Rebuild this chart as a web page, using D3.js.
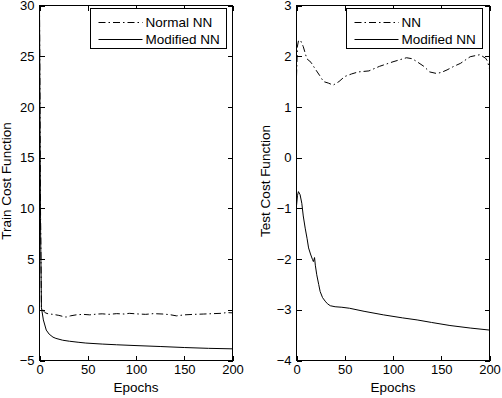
<!DOCTYPE html>
<html>
<head>
<meta charset="utf-8">
<script src="https://cdn.jsdelivr.net/npm/d3@7/dist/d3.min.js"></script>
<style>
  body { margin: 0; background: #fff; }
  svg { display: block; }
  text { font-family: "Liberation Sans", Arial, Helvetica, sans-serif; fill: #000; }
</style>
</head>
<body>
<svg id="chart" width="502" height="398"></svg>
<script>
// ---------- data ----------
const xTicks = [0, 50, 100, 150, 200];
const trainYTicks = [-5, 0, 5, 10, 15, 20, 25, 30];
const testYTicks = [-4, -3, -2, -1, 0, 1, 2, 3];

const trainNormalX = [0, 1, 2, 4, 6, 9, 14, 20, 24, 27.5, 32, 38, 45, 52, 60, 65, 72, 80, 88, 93, 100, 110, 118, 128, 135, 142, 150, 160, 170, 180, 188, 194, 200];
const trainNormalY = [30, 10.5, 0.3, -0.1, -0.3, -0.4, -0.45, -0.55, -0.65, -0.72, -0.6, -0.5, -0.45, -0.5, -0.42, -0.4, -0.45, -0.38, -0.42, -0.35, -0.4, -0.45, -0.38, -0.42, -0.48, -0.6, -0.5, -0.45, -0.42, -0.38, -0.35, -0.28, -0.3];

const trainModX = [0, 1, 2, 4, 7, 10, 14, 17, 24, 31, 40, 48, 65, 80, 100, 125, 150, 175, 200];
const trainModY = [30, 9, 0.2, -1.0, -2.0, -2.4, -2.7, -2.82, -3.0, -3.1, -3.2, -3.28, -3.38, -3.45, -3.53, -3.62, -3.72, -3.8, -3.85];

const testNNX = [0, 1, 2, 4, 7, 10.7, 15, 19, 24, 28, 33, 38, 44, 50, 57, 64, 75, 86, 100, 114, 120, 125, 132, 138, 145, 150, 156, 163, 170, 180, 190, 196, 198, 200];
const testNNY = [1.6, 2.2, 2.3, 2.32, 2.19, 1.95, 1.88, 1.76, 1.62, 1.5, 1.47, 1.43, 1.5, 1.6, 1.65, 1.69, 1.71, 1.8, 1.89, 1.97, 1.95, 1.89, 1.8, 1.69, 1.66, 1.68, 1.73, 1.8, 1.86, 1.99, 2.03, 1.96, 1.9, 1.75];

const testModX = [0, 1, 2, 3.7, 5.5, 7, 9, 11, 12.5, 14.5, 16.6, 17.5, 18.7, 19.5, 21, 23, 24.5, 27, 29.7, 32, 35, 40, 47, 55, 70, 90, 110, 125, 140, 159, 180, 200];
const testModY = [-0.95, -0.75, -0.67, -0.73, -0.9, -1.15, -1.39, -1.6, -1.78, -1.9, -2.01, -2.05, -1.97, -2.12, -2.31, -2.5, -2.64, -2.76, -2.83, -2.88, -2.92, -2.94, -2.95, -2.97, -3.03, -3.1, -3.16, -3.2, -3.25, -3.31, -3.36, -3.4];

const panels = [
  { id: "train", left: 39.5, right: 232.5, yDomain: [-5, 30], yTicks: trainYTicks, ylabel: "Train Cost Function", ylabelX: 10.5,
    series: [ { name: "Normal NN", x: trainNormalX, y: trainNormalY, dash: "7,3,1.5,3" },
              { name: "Modified NN", x: trainModX, y: trainModY, dash: null } ],
    legend: { x: 90.5, w: 136 } },
  { id: "test", left: 296.5, right: 489.5, yDomain: [-4, 3], yTicks: testYTicks, ylabel: "Test Cost Function", ylabelX: 270,
    series: [ { name: "NN", x: testNNX, y: testNNY, dash: "7,3,1.5,3" },
              { name: "Modified NN", x: testModX, y: testModY, dash: null } ],
    legend: { x: 346.5, w: 136 } }
];

const plotTop = 5.5, plotBottom = 360.5;
const svg = d3.select("#chart");
const tickFont = 13, labelFont = 13.5;

panels.forEach(p => {
  const x = d3.scaleLinear().domain([0, 200]).range([p.left, p.right]);
  const y = d3.scaleLinear().domain(p.yDomain).range([plotBottom, plotTop]);

  svg.append("clipPath").attr("id", "clip-" + p.id)
    .append("rect").attr("x", p.left).attr("y", plotTop).attr("width", p.right - p.left).attr("height", plotBottom - plotTop);

  const g = svg.append("g");

  // series
  const line = d3.line().x(d => x(d[0])).y(d => y(d[1]));
  p.series.forEach(s => {
    const pts = s.x.map((v, i) => [v, s.y[i]]);
    g.append("path").attr("d", line(pts))
      .attr("clip-path", "url(#clip-" + p.id + ")")
      .attr("fill", "none").attr("stroke", "#000").attr("stroke-width", 1)
      .attr("stroke-dasharray", s.dash);
  });

  // axes
  const ax = g.append("g").attr("shape-rendering", "crispEdges");
  const bottomAxis = d3.axisBottom(x).tickValues(xTicks).tickSizeInner(-5).tickSizeOuter(0).tickPadding(4).tickFormat(d3.format("d"));
  const topAxis = d3.axisTop(x).tickValues(xTicks).tickSizeInner(-5).tickSizeOuter(0).tickFormat("");
  const leftAxis = d3.axisLeft(y).tickValues(p.yTicks).tickSizeInner(-5).tickSizeOuter(0).tickPadding(5).tickFormat(d3.format("d"));
  const rightAxis = d3.axisRight(y).tickValues(p.yTicks).tickSizeInner(-5).tickSizeOuter(0).tickFormat("");

  [[bottomAxis, `translate(0,${plotBottom})`], [topAxis, `translate(0,${plotTop})`],
   [leftAxis, `translate(${p.left},0)`], [rightAxis, `translate(${p.right},0)`]].forEach(([a, t]) => {
    const gg = ax.append("g").attr("transform", t).call(a);
    gg.select(".domain").remove();
    gg.selectAll("line").attr("stroke", "#000");
    gg.selectAll("text").attr("font-size", tickFont).attr("font-family", null).attr("fill", "#000");
  });
  ax.append("rect").attr("x", p.left).attr("y", plotTop).attr("width", p.right - p.left).attr("height", plotBottom - plotTop)
    .attr("fill", "none").attr("stroke", "#000");

  // labels
  g.append("text").attr("x", (p.left + p.right) / 2).attr("y", 392).attr("text-anchor", "middle")
    .attr("font-size", labelFont).text("Epochs");
  g.append("text").attr("transform", `translate(${p.ylabelX},181) rotate(-90)`).attr("text-anchor", "middle")
    .attr("font-size", labelFont).text(p.ylabel);

  // legend
  const lg = g.append("g");
  lg.append("rect").attr("x", p.legend.x).attr("y", 8.5).attr("width", p.legend.w).attr("height", 40)
    .attr("fill", "#fff").attr("stroke", "#000").attr("shape-rendering", "crispEdges");
  p.series.forEach((s, i) => {
    const cy = 22.5 + i * 17;
    lg.append("line").attr("x1", p.legend.x + 8).attr("x2", p.legend.x + 52).attr("y1", cy).attr("y2", cy)
      .attr("stroke", "#000").attr("stroke-dasharray", s.dash);
    lg.append("text").attr("x", p.legend.x + 55).attr("y", cy + 4.8).attr("font-size", labelFont).text(s.name);
  });
});
</script>
</body>
</html>
